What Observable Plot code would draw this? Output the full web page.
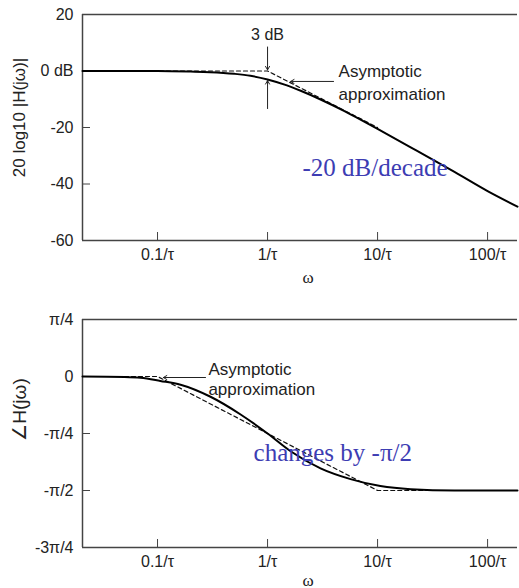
<!DOCTYPE html>
<html><head><meta charset="utf-8">
<script src="https://cdn.jsdelivr.net/npm/d3@7"></script>
<script src="https://cdn.jsdelivr.net/npm/@observablehq/plot@0.6"></script>
<style>body{margin:0;background:#fff} svg{display:block}</style>
</head><body><div id="chart"></div>
<script>
// ---- data ----
const omegaDomain = [0.0208, 187];
const xTicks = [0.1, 1, 10, 100];
const xTickLabels = ["0.1/τ", "1/τ", "10/τ", "100/τ"];

const magOmega = [0.0208, 0.1, 0.2, 0.3, 0.5, 0.7, 1, 1.5, 2, 3, 5, 7, 10, 20, 50, 100, 187];
const magDb    = [0, 0, -0.2, -0.4, -1.0, -1.7, -3, -5.1, -7, -10, -14.2, -17.2, -20.5, -27, -35.7, -42.5, -48];
const magAsymOmega = [0.0208, 1, 10];
const magAsymDb    = [0, 0, -20];
const magTicks = [20, 0, -20, -40, -60];
const magTickLabels = ["20", "0 dB", "-20", "-40", "-60"];

const phaseOmega = [0.0208, 0.05, 0.07, 0.106, 0.162, 0.303, 0.569, 1, 1.62, 3.03, 5.68, 10.6, 20, 50, 187];
const phaseDeg   = [0, -0.4, -1, -3.5, -6.5, -16, -30, -45, -59, -72.5, -81, -86.5, -89, -90, -90];
const phaseAsymOmega = [0.0208, 0.1, 10, 187];
const phaseAsymDeg   = [0, 0, -90, -90];
const phaseTicks = [45, 0, -45, -90, -135];
const phaseTickLabels = ["π/4", "0", "-π/4", "-π/2", "-3π/4"];

// ---- styles ----
const sans = "'Liberation Sans', Arial, Helvetica, sans-serif";
const serif = "'Liberation Serif', 'Times New Roman', serif";
const blue = "#3d3db3";
const ink = "#222";
const frameColor = "#444";

const W = 519, ML = 82, MR = 2;
const plotW = W - ML - MR;

function panel({height, marginTop, marginBottom, yDomain, yTicks, yTickLabels, curve, asym, ylabel, labelDy, labelSize, omegaDy, annotations, arrows}) {
  const plotH = height - marginTop - marginBottom;
  const curveData = curve[0].map((w, i) => ({w, v: curve[1][i]}));
  const asymData = asym[0].map((w, i) => ({w, v: asym[1][i]}));
  return Plot.plot({
    width: W, height, marginTop, marginBottom, marginLeft: ML, marginRight: MR,
    style: {fontFamily: sans, fontSize: "16px", color: ink, background: "#fff", overflow: "visible"},
    x: {type: "log", domain: omegaDomain},
    y: {domain: yDomain},
    marks: [
      Plot.ruleY([yDomain[0], yDomain[1]], {stroke: frameColor, strokeWidth: 1.5}),
      Plot.ruleX([omegaDomain[0]], {stroke: frameColor, strokeWidth: 1.5}),
      Plot.tickX(xTicks, {x: d => d, insetTop: plotH - 8, stroke: frameColor, strokeWidth: 1}),
      Plot.tickY(yTicks, {y: d => d, insetRight: plotW - 8, stroke: frameColor, strokeWidth: 1}),
      Plot.axisX(xTicks, {tickSize: 0, tickPadding: 8, fontSize: 16, label: null,
        tickFormat: d => xTickLabels[xTicks.indexOf(d)]}),
      Plot.axisY(yTicks, {tickSize: 0, tickPadding: 9, fontSize: 16, label: null,
        tickFormat: d => yTickLabels[yTicks.indexOf(d)]}),
      Plot.line(asymData, {x: "w", y: "v", stroke: "#111", strokeWidth: 1.2, strokeDasharray: "4,3"}),
      Plot.line(curveData, {x: "w", y: "v", stroke: "#000", strokeWidth: 2, curve: "monotone-x"}),
      Plot.arrow(arrows, {x1: "x1", y1: "y1", x2: "x2", y2: "y2", stroke: ink, strokeWidth: 1, headLength: 6}),
      ...annotations.map(a => Plot.text([a.text], {x: () => a.x, y: () => a.y, text: d => d,
        textAnchor: a.anchor, fontSize: a.size, fill: a.fill || ink, fontFamily: a.font || sans, lineHeight: a.lh || 1})),
      Plot.text([ylabel], {frameAnchor: "left", dx: -63, dy: labelDy, rotate: -90, textAnchor: "middle", fontSize: labelSize, fill: ink}),
      Plot.text(["ω"], {frameAnchor: "bottom", dx: 8, dy: omegaDy, textAnchor: "middle", fontSize: 17, fontFamily: serif, fill: ink})
    ]
  });
}

const topChart = panel({
  height: 290, marginTop: 14, marginBottom: 50,
  yDomain: [-60, 20], yTicks: magTicks, yTickLabels: magTickLabels,
  curve: [magOmega, magDb], asym: [magAsymOmega, magAsymDb],
  ylabel: "20 log10 |H(jω)|", labelDy: -10, labelSize: 17, omegaDy: 42,
  arrows: [
    {x1: 1, y1: 8.5, x2: 1, y2: 0.4},
    {x1: 1, y1: -13.3, x2: 1, y2: -3.4},
    {x1: 3.98, y1: -3.7, x2: 1.62, y2: -3.7}
  ],
  annotations: [
    {text: "3 dB", x: 1, y: 12.9, anchor: "middle", size: 16},
    {text: "Asymptotic\napproximation", x: 4.42, y: -3.7, anchor: "start", size: 17, lh: 1.3},
    {text: "-20 dB/decade", x: 2.08, y: -34.5, anchor: "start", size: 25, fill: blue, font: serif}
  ]
});

const bottomChart = panel({
  height: 298, marginTop: 29, marginBottom: 41,
  yDomain: [-135, 45], yTicks: phaseTicks, yTickLabels: phaseTickLabels,
  curve: [phaseOmega, phaseDeg], asym: [phaseAsymOmega, phaseAsymDeg],
  ylabel: "∠H(jω)", labelDy: -24, labelSize: 19, omegaDy: 38,
  arrows: [
    {x1: 0.273, y1: -0.8, x2: 0.113, y2: -0.8}
  ],
  annotations: [
    {text: "Asymptotic\napproximation", x: 0.29, y: -1.6, anchor: "start", size: 17, lh: 1.2},
    {text: "changes by -π/2", x: 0.746, y: -60, anchor: "start", size: 25, fill: blue, font: serif}
  ]
});

const root = document.getElementById("chart");
root.appendChild(topChart);
root.appendChild(bottomChart);
</script>
</body></html>
